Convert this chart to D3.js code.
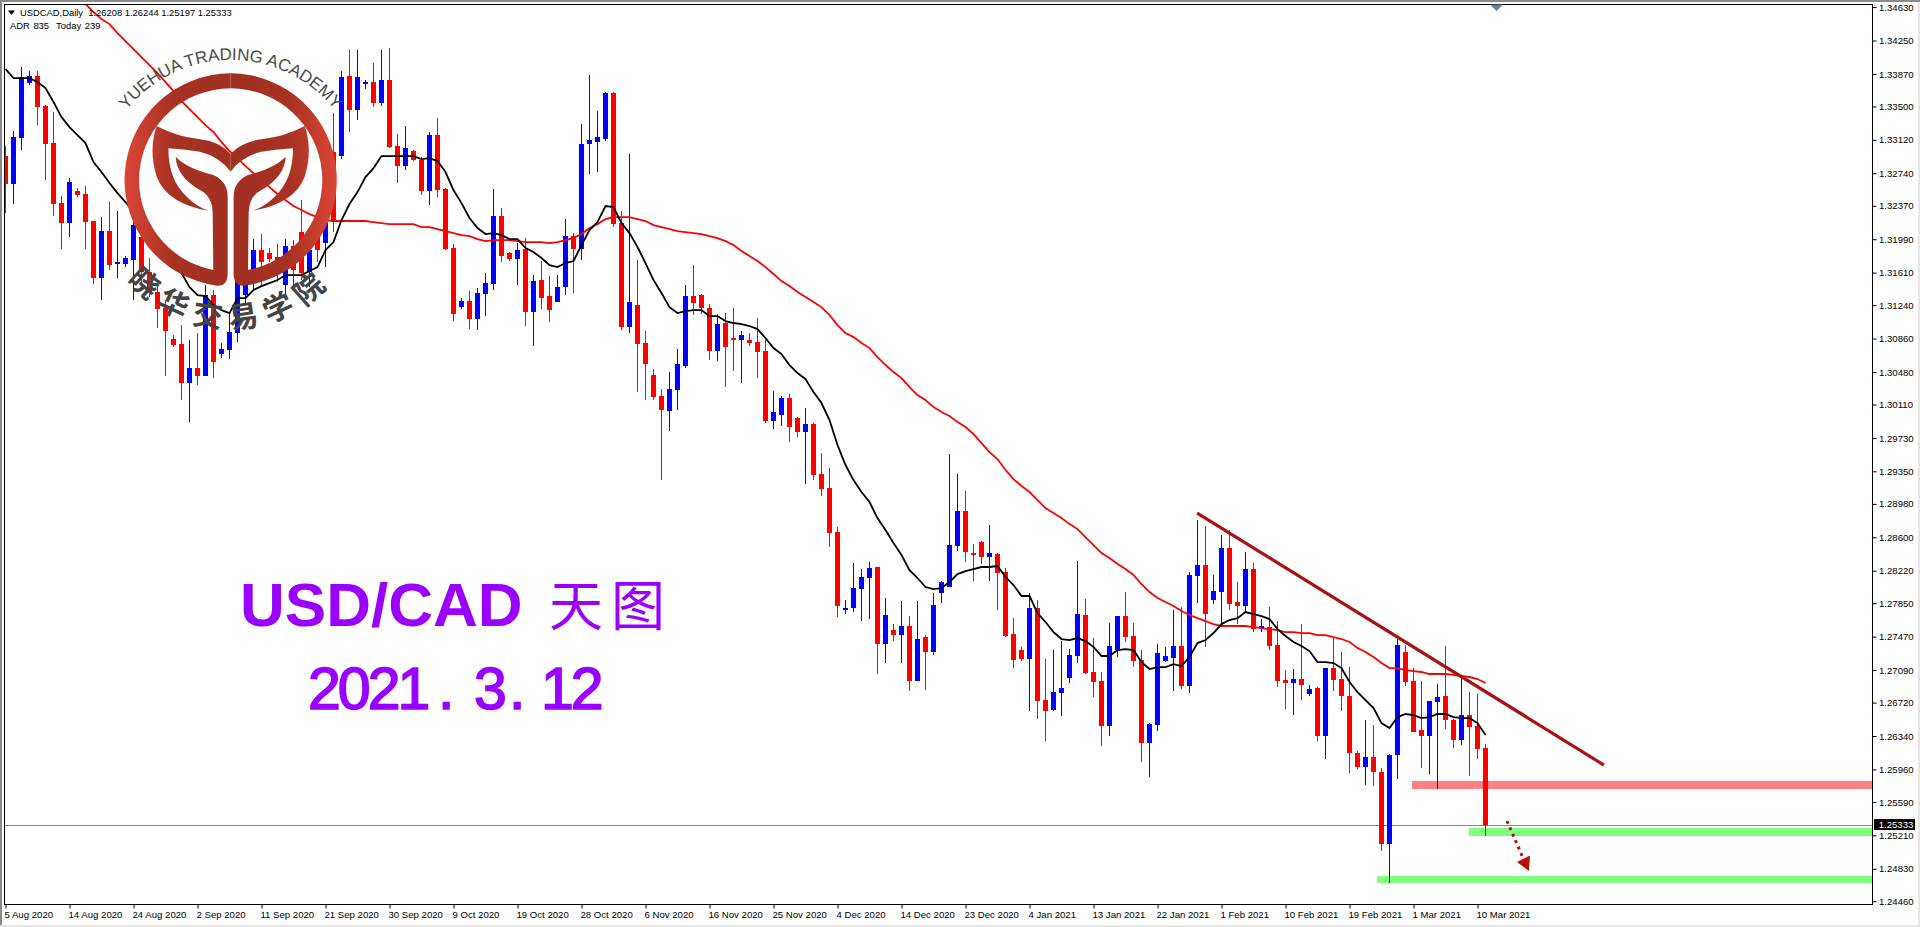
<!DOCTYPE html>
<html>
<head>
<meta charset="utf-8">
<script src="https://cdn.jsdelivr.net/npm/d3@7"></script>
<style>
html,body{margin:0;padding:0;background:#fff;overflow:hidden}
svg{display:block}
text{font-family:"Liberation Sans",Arial,sans-serif}
</style>
</head>
<body>
<svg id="chart" width="1920" height="927"></svg>
<script>
const tickLabels = ["5 Aug 2020","14 Aug 2020","24 Aug 2020","2 Sep 2020","11 Sep 2020","21 Sep 2020","30 Sep 2020","9 Oct 2020","19 Oct 2020","28 Oct 2020","6 Nov 2020","16 Nov 2020","25 Nov 2020","4 Dec 2020","14 Dec 2020","23 Dec 2020","4 Jan 2021","13 Jan 2021","22 Jan 2021","1 Feb 2021","10 Feb 2021","19 Feb 2021","1 Mar 2021","10 Mar 2021"];
const priceTicks = [1.34630,1.34250,1.33870,1.33500,1.33120,1.32740,1.32370,1.31990,1.31610,1.31240,1.30860,1.30480,1.30110,1.29730,1.29350,1.28980,1.28600,1.28220,1.27850,1.27470,1.27090,1.26720,1.26340,1.25960,1.25590,1.25210,1.24830,1.24460];

const opens = [1.32936,1.32617,1.33141,1.33766,1.33846,1.33505,1.33084,1.32401,1.32174,1.32538,
1.32504,1.32197,1.31548,1.32083,1.31707,1.31707,1.31753,1.32015,1.31617,1.31389,
1.31207,1.30855,1.30798,1.30354,1.30525,1.30434,1.31355,1.30684,1.30729,1.30923,
1.31355,1.31639,1.31867,1.31833,1.31787,1.31469,1.31912,1.32071,1.31617,1.32151,
1.31946,1.32981,1.32936,1.33846,1.33459,1.33755,1.33777,1.33539,1.33800,1.33050,
1.32822,1.32993,1.32890,1.32538,1.33175,1.32560,1.31890,1.31218,1.31287,1.31082,
1.31366,1.31480,1.32253,1.31833,1.31764,1.31878,1.31162,1.31526,1.31344,1.31275,
1.31446,1.32026,1.31878,1.33072,1.33095,1.33129,1.33652,1.32174,1.30991,1.31241,
1.30809,1.30445,1.30207,1.30036,1.30275,1.30547,1.31344,1.31355,1.31207,1.30718,
1.31037,1.30866,1.30843,1.30843,1.30820,1.30718,1.29922,1.29990,1.30184,1.29956,
1.29797,1.29888,1.29319,1.29160,1.28659,1.27772,1.27795,1.28011,1.28137,1.28262,
1.27386,1.27545,1.27488,1.27591,1.26965,1.27465,1.27295,1.27966,1.28034,1.28500,
1.28899,1.28421,1.28546,1.28375,1.28409,1.28205,1.27500,1.27318,1.27215,1.27795,
1.26749,1.26635,1.26829,1.26999,1.27250,1.27716,1.27068,1.26965,1.26453,1.27318,
1.27704,1.27477,1.27204,1.26260,1.26465,1.27193,1.27227,1.27363,1.26908,1.28159,
1.28284,1.27886,1.27977,1.28478,1.27864,1.27818,1.28239,1.27568,1.27579,1.27375,
1.26976,1.26942,1.26988,1.26817,1.26885,1.26340,1.27113,1.26988,1.26794,1.26146,
1.25987,1.26101,1.25930,1.25111,1.26123,1.27295,1.26965,1.26408,1.26340,1.26726,
1.26794,1.26521,1.26294,1.26578,1.26453,1.26208];

const highs = [1.33050,1.33220,1.33948,1.33903,1.33903,1.33516,1.33436,1.32481,1.32686,1.32572,
1.32595,1.32197,1.32242,1.32413,1.32310,1.31798,1.32185,1.32094,1.31776,1.31469,
1.31298,1.30900,1.31014,1.30843,1.30923,1.31469,1.31412,1.30809,1.31150,1.31582,
1.31867,1.31992,1.32049,1.31890,1.31935,1.31992,1.31980,1.32435,1.32094,1.32265,
1.32265,1.33425,1.33903,1.34141,1.34141,1.33800,1.33994,1.34141,1.34164,1.33186,
1.33277,1.33004,1.32924,1.33209,1.33368,1.32572,1.31935,1.31321,1.31401,1.31435,
1.31605,1.32560,1.32344,1.31844,1.31946,1.32003,1.31582,1.31742,1.31571,1.31582,
1.32219,1.32060,1.33300,1.33857,1.33448,1.33664,1.33664,1.32310,1.32958,1.31753,
1.30946,1.30514,1.30286,1.30479,1.30741,1.31469,1.31696,1.31366,1.31252,1.31139,
1.31150,1.31207,1.30946,1.30923,1.31093,1.30877,1.30263,1.30207,1.30229,1.29967,
1.30070,1.29899,1.29558,1.29387,1.28716,1.27886,1.28307,1.28239,1.28318,1.28262,
1.27909,1.27613,1.27875,1.27704,1.27875,1.27488,1.27966,1.28102,1.29546,1.29319,
1.29126,1.28523,1.28557,1.28739,1.28421,1.28250,1.27681,1.27352,1.27966,1.27886,
1.27215,1.27318,1.27420,1.27329,1.28330,1.27898,1.27454,1.27068,1.27625,1.27704,
1.27977,1.27625,1.27318,1.26487,1.27386,1.27352,1.27772,1.27806,1.28205,1.28796,
1.28727,1.28171,1.28625,1.28682,1.28091,1.28432,1.28307,1.27670,1.27806,1.27647,
1.27090,1.27102,1.27613,1.26919,1.26897,1.27113,1.27465,1.27295,1.27124,1.26169,
1.26521,1.26464,1.25976,1.26135,1.27454,1.27375,1.27113,1.26965,1.26738,1.26931,
1.27363,1.26533,1.27011,1.26840,1.26817,1.26244];

const lows = [1.32288,1.32390,1.33004,1.33743,1.33288,1.32663,1.32253,1.31878,1.32015,1.32470,
1.31878,1.31480,1.31298,1.31639,1.31548,1.31673,1.31298,1.31469,1.31332,1.30980,
1.30434,1.30764,1.30161,1.29910,1.30332,1.30434,1.30411,1.30638,1.30627,1.30820,
1.31241,1.31412,1.31469,1.31730,1.31503,1.31355,1.31469,1.31526,1.31446,1.31730,
1.31673,1.32071,1.32902,1.33209,1.33345,1.33698,1.33493,1.33505,1.33027,1.32629,
1.32777,1.32879,1.32492,1.32378,1.32470,1.31867,1.31059,1.31196,1.30968,1.30957,
1.31116,1.31412,1.31730,1.31742,1.31469,1.31003,1.30775,1.31196,1.31048,1.31275,
1.31355,1.31378,1.31753,1.32731,1.32754,1.33106,1.32128,1.30957,1.30923,1.30252,
1.30161,1.30161,1.29251,1.29808,1.30047,1.30525,1.31127,1.31139,1.30616,1.30604,
1.30309,1.30491,1.30354,1.30775,1.30411,1.29899,1.29831,1.29865,1.29683,1.29740,
1.29205,1.29251,1.29069,1.28489,1.27693,1.27727,1.27750,1.27648,1.27670,1.27045,
1.27170,1.27420,1.27170,1.26851,1.26965,1.26863,1.27261,1.27852,1.28034,1.28444,
1.28318,1.28102,1.28296,1.28102,1.27772,1.27465,1.27113,1.27193,1.26624,1.26533,
1.26283,1.26624,1.26567,1.26942,1.27170,1.27045,1.26784,1.26226,1.26340,1.27238,
1.27409,1.27124,1.26044,1.25873,1.26396,1.27181,1.26851,1.26874,1.26829,1.27852,
1.27352,1.27841,1.27613,1.27772,1.27613,1.27738,1.27522,1.27522,1.27318,1.26897,
1.26646,1.26578,1.26749,1.26794,1.26283,1.26078,1.26851,1.26624,1.25919,1.25964,
1.25782,1.25771,1.25031,1.24668,1.25850,1.26908,1.26385,1.25976,1.25908,1.25737,
1.26419,1.26203,1.26237,1.25884,1.26078,1.25197];

const closes = [1.32617,1.33152,1.33834,1.33846,1.33493,1.33072,1.32390,1.32174,1.32640,1.32492,
1.32185,1.31548,1.32083,1.31696,1.31730,1.31776,1.32151,1.31617,1.31389,1.31196,
1.30946,1.30786,1.30354,1.30525,1.30434,1.31355,1.30593,1.30741,1.30934,1.31526,
1.31730,1.31867,1.31730,1.31764,1.31617,1.31912,1.31639,1.31605,1.31867,1.31867,
1.32174,1.32185,1.33834,1.33459,1.33834,1.33777,1.33539,1.33800,1.33038,1.32822,
1.33027,1.32890,1.32538,1.33175,1.32549,1.31878,1.31139,1.31287,1.31082,1.31378,
1.31491,1.32253,1.31798,1.31764,1.31867,1.31162,1.31514,1.31321,1.31184,1.31446,
1.32026,1.31878,1.33072,1.33118,1.33152,1.33652,1.32162,1.30991,1.31275,1.30798,
1.30570,1.30195,1.30047,1.30286,1.30570,1.31344,1.31264,1.31207,1.30718,1.31025,
1.30764,1.30843,1.30900,1.30809,1.30707,1.29922,1.30024,1.30184,1.29854,1.29797,
1.29888,1.29308,1.29149,1.28648,1.27818,1.27795,1.28023,1.28148,1.28250,1.27386,
1.27716,1.27488,1.27591,1.26965,1.27443,1.27295,1.27829,1.28091,1.28512,1.28899,
1.28432,1.28398,1.28375,1.28421,1.28193,1.27477,1.27204,1.27215,1.27795,1.26738,
1.26624,1.26840,1.26886,1.27261,1.27727,1.27056,1.26954,1.26453,1.27363,1.27704,
1.27465,1.27193,1.26260,1.26476,1.27284,1.27250,1.27363,1.26908,1.28171,1.28284,
1.27727,1.27989,1.28478,1.27841,1.27818,1.28239,1.27556,1.27591,1.27363,1.26965,
1.26942,1.26988,1.26920,1.26874,1.26340,1.27113,1.26976,1.26794,1.26146,1.25987,
1.26101,1.25930,1.25111,1.26123,1.27375,1.26954,1.26385,1.26340,1.26738,1.26783,
1.26521,1.26294,1.26578,1.26442,1.26192,1.25333];

const blackMA = [1.33926,1.33823,1.33823,1.33823,1.33777,1.33709,1.33550,1.33379,1.33266,1.33175,
1.33084,1.32868,1.32754,1.32629,1.32515,1.32413,1.32299,1.32208,1.32128,1.32003,
1.31890,1.31719,1.31605,1.31446,1.31355,1.31344,1.31241,1.31184,1.31150,1.31321,
1.31321,1.31412,1.31457,1.31491,1.31526,1.31582,1.31582,1.31582,1.31628,1.31673,
1.31867,1.31958,1.32208,1.32390,1.32526,1.32697,1.32799,1.32936,1.32936,1.32936,
1.32936,1.32936,1.32902,1.32913,1.32879,1.32754,1.32549,1.32401,1.32231,1.32117,
1.32049,1.32060,1.32037,1.31992,1.31992,1.31890,1.31844,1.31776,1.31696,1.31673,
1.31719,1.31742,1.31923,1.32094,1.32185,1.32367,1.32356,1.32174,1.32060,1.31901,
1.31719,1.31526,1.31378,1.31218,1.31150,1.31173,1.31184,1.31184,1.31116,1.31116,
1.31059,1.31037,1.31025,1.31003,1.30968,1.30866,1.30752,1.30684,1.30559,1.30468,
1.30400,1.30252,1.30127,1.29933,1.29649,1.29422,1.29251,1.29115,1.29001,1.28819,
1.28682,1.28534,1.28398,1.28227,1.28137,1.28034,1.28011,1.28023,1.28091,1.28182,
1.28216,1.28239,1.28262,1.28262,1.28273,1.28148,1.28057,1.27932,1.27932,1.27738,
1.27636,1.27522,1.27443,1.27431,1.27454,1.27420,1.27352,1.27250,1.27250,1.27318,
1.27329,1.27318,1.27181,1.27102,1.27124,1.27124,1.27158,1.27136,1.27238,1.27397,
1.27431,1.27511,1.27613,1.27659,1.27681,1.27750,1.27727,1.27704,1.27670,1.27556,
1.27477,1.27409,1.27363,1.27306,1.27181,1.27181,1.27170,1.27113,1.26954,1.26840,
1.26749,1.26658,1.26487,1.26430,1.26555,1.26590,1.26578,1.26544,1.26555,1.26590,
1.26590,1.26555,1.26544,1.26544,1.26487,1.26351];

const redMA = [null,null,null,null,null,null,null,null,null,null,
1.34665,1.34574,1.34494,1.34437,1.34335,1.34244,1.34153,1.34062,1.33971,1.33880,
1.33777,1.33675,1.33561,1.33470,1.33379,1.33288,1.33209,1.33095,1.32993,1.32913,
1.32822,1.32742,1.32663,1.32583,1.32504,1.32435,1.32367,1.32322,1.32276,1.32242,
1.32208,1.32197,1.32197,1.32197,1.32197,1.32197,1.32185,1.32174,1.32162,1.32162,
1.32162,1.32162,1.32128,1.32128,1.32106,1.32083,1.32060,1.32037,1.32026,1.31992,
1.31969,1.31980,1.31980,1.31980,1.31969,1.31958,1.31958,1.31958,1.31946,1.31958,
1.31980,1.32003,1.32049,1.32117,1.32162,1.32219,1.32242,1.32242,1.32242,1.32219,
1.32197,1.32151,1.32128,1.32106,1.32083,1.32071,1.32060,1.32049,1.32026,1.32003,
1.31969,1.31923,1.31855,1.31798,1.31742,1.31673,1.31594,1.31514,1.31457,1.31389,
1.31332,1.31275,1.31218,1.31127,1.31014,1.30923,1.30877,1.30809,1.30752,1.30650,
1.30559,1.30479,1.30411,1.30309,1.30218,1.30161,1.30081,1.30024,1.29979,1.29910,
1.29854,1.29774,1.29672,1.29569,1.29490,1.29365,1.29262,1.29183,1.29115,1.29023,
1.28932,1.28875,1.28819,1.28750,1.28693,1.28603,1.28512,1.28421,1.28364,1.28296,
1.28239,1.28171,1.28068,1.27977,1.27909,1.27864,1.27818,1.27761,1.27716,1.27681,
1.27647,1.27613,1.27591,1.27591,1.27591,1.27591,1.27579,1.27568,1.27556,1.27545,
1.27522,1.27522,1.27511,1.27511,1.27488,1.27488,1.27465,1.27443,1.27409,1.27341,
1.27295,1.27238,1.27170,1.27113,1.27113,1.27090,1.27079,1.27068,1.27045,1.27045,
1.27045,1.27034,1.27022,1.27011,1.26988,1.26942];

const zoneStarts = [175.8,182.96,171.46];
const zoneTops = [1.25828,1.25293,1.24748];
const zoneBottoms = [1.25737,1.25202,1.24668];
const zoneColors = ["#ff8080","#80ff80","#80ff80"];
const trendBars = [148.96,199.8];
const trendPrices = [1.28876,1.26010];
const lastPrice = 1.25333;
const tickEvery = 8;

const width = 1920, height = 927;
const plot = {left:4.5, top:4.5, right:1872.5, bottom:904.5};
const svg = d3.select("#chart");

const x = d3.scaleLinear().domain([0,185]).range([5.5,1485.5]);
const y = d3.scaleLinear().domain([1.24460,1.34630]).range([901.3,7.1]);

/* window chrome */
svg.append("rect").attr("x",0).attr("y",0).attr("width",width).attr("height",2).attr("fill","#8a8a8a");
svg.append("rect").attr("x",0).attr("y",0).attr("width",2).attr("height",height).attr("fill","#8a8a8a");
svg.append("rect").attr("x",0).attr("y",925).attr("width",width).attr("height",2).attr("fill","#e6e6e6");
svg.append("rect").attr("x",1918).attr("y",2).attr("width",2).attr("height",height).attr("fill","#e6e6e6");

const defs = svg.append("defs");
defs.append("clipPath").attr("id","plotClip").append("rect")
  .attr("x",plot.left+.5).attr("y",plot.top+.5)
  .attr("width",plot.right-plot.left-1).attr("height",plot.bottom-plot.top-1);

const main = svg.append("g").attr("clip-path","url(#plotClip)");

/* zones */
main.append("g").attr("shape-rendering","crispEdges").selectAll("rect").data(zoneStarts).join("rect")
  .attr("x",d=>x(d)).attr("width",d=>plot.right-x(d))
  .attr("y",(d,i)=>y(zoneTops[i])).attr("height",(d,i)=>y(zoneBottoms[i])-y(zoneTops[i]))
  .attr("fill",(d,i)=>zoneColors[i]);

/* current price line */
main.append("line").attr("x1",plot.left).attr("x2",plot.right)
  .attr("y1",Math.round(y(lastPrice))+.5).attr("y2",Math.round(y(lastPrice))+.5)
  .attr("stroke","#778899").attr("stroke-width",1);

/* candles */
const color = i => closes[i] < opens[i] ? "#ff0000" : "#0000ff";
const candles = main.append("g").attr("shape-rendering","crispEdges");
candles.selectAll("line").data(opens).join("line")
  .attr("x1",(d,i)=>x(i)).attr("x2",(d,i)=>x(i))
  .attr("y1",(d,i)=>y(highs[i])).attr("y2",(d,i)=>y(lows[i]))
  .attr("stroke",(d,i)=>color(i)).attr("stroke-width",1);
candles.selectAll("rect").data(opens).join("rect")
  .attr("x",(d,i)=>x(i)-2.5).attr("width",5)
  .attr("y",(d,i)=>y(Math.max(opens[i],closes[i])))
  .attr("height",(d,i)=>Math.max(1,Math.abs(y(opens[i])-y(closes[i]))))
  .attr("fill",(d,i)=>color(i));

/* moving averages */
const line = d3.line().defined(d=>d!==null).x((d,i)=>x(i)).y(d=>y(d));
main.append("path").attr("d",line(redMA)).attr("fill","none").attr("stroke","#ff0000").attr("stroke-width",1.8);
main.append("path").attr("d",line(blackMA)).attr("fill","none").attr("stroke","#000000").attr("stroke-width",1.8);

/* trend line */
main.append("line")
  .attr("x1",x(trendBars[0])).attr("y1",y(trendPrices[0]))
  .attr("x2",x(trendBars[1])).attr("y2",y(trendPrices[1]))
  .attr("stroke","#a81212").attr("stroke-width",3.2);

/* dotted arrow */
main.append("line").attr("x1",1507).attr("y1",821).attr("x2",1523).attr("y2",858)
  .attr("stroke","#b01515").attr("stroke-width",3).attr("stroke-dasharray","3,4");
main.append("path").attr("d","M1517,862 L1530,855.5 L1529,871 Z").attr("fill","#b81010");

/* frame */
svg.append("rect").attr("x",plot.left).attr("y",plot.top)
  .attr("width",plot.right-plot.left).attr("height",plot.bottom-plot.top)
  .attr("fill","none").attr("stroke","#000").attr("stroke-width",1).attr("shape-rendering","crispEdges");

/* axes */
const yAxis = d3.axisRight(y).tickValues(priceTicks).tickFormat(d3.format(".5f")).tickSize(4).tickPadding(2.5);
const gy = svg.append("g").attr("transform",`translate(${plot.right},0)`).call(yAxis);
gy.select(".domain").remove();
gy.selectAll("text").attr("font-size",9.6).attr("fill","#000").style("font-family",'"Liberation Sans",Arial,sans-serif');

const xAxis = d3.axisBottom(x).tickValues(tickLabels.map((d,i)=>i*tickEvery))
  .tickFormat(d=>tickLabels[d/tickEvery]).tickSize(4).tickPadding(1);
const gx = svg.append("g").attr("transform",`translate(0,${plot.bottom})`).call(xAxis);
gx.select(".domain").remove();
gx.selectAll("text").attr("text-anchor","start").attr("dx",-1.5).attr("dy","0.85em")
  .attr("font-size",9.6).attr("fill","#000").style("font-family",'"Liberation Sans",Arial,sans-serif');

/* current price tag */
const tagY = y(lastPrice);
svg.append("rect").attr("x",1874).attr("y",tagY-5.5).attr("width",41).attr("height",11).attr("fill","#000");
svg.append("text").attr("x",1878.7).attr("y",tagY+3.4).attr("font-size",9.6).attr("fill","#fff").text(d3.format(".5f")(lastPrice));

/* header texts */
svg.append("path").attr("d","M8,10.5 L15,10.5 L11.5,15 Z").attr("fill","#000");
svg.append("text").attr("x",20).attr("y",15.8).attr("font-size",9.4).attr("fill","#000")
  .attr("xml:space","preserve").text("USDCAD,Daily  1.26208 1.26244 1.25197 1.25333");
svg.append("text").attr("x",10).attr("y",29).attr("font-size",9.4).attr("fill","#000").attr("word-spacing",1)
  .attr("xml:space","preserve").text("ADR 835  Today 239");
svg.append("path").attr("d","M1490,4.5 L1503,4.5 L1496.5,11 Z").attr("fill","#6d7d8d");

/* logo */
const grad = defs.append("linearGradient").attr("id","logoGrad").attr("gradientUnits","userSpaceOnUse")
  .attr("x1",372).attr("x2",692).attr("y1",0).attr("y2",0);
grad.append("stop").attr("offset",0).attr("stop-color","#dc4636");
grad.append("stop").attr("offset",.45).attr("stop-color","#a83222");
grad.append("stop").attr("offset",1).attr("stop-color","#a03022");
const logo = svg.append("g").attr("transform","scale(0.33333)");
const halfRing = "M692,220 A320,320 0 0 0 650,857 Q683,860 683,820 L683,590 Q683,545 640,525 Q560,505 527,470 Q530,530 600,570 Q638,590 638,640 L640,810 A275,275 0 0 1 692,265 Z";
const halfBand = "M470,378 Q530,410 600,418 Q660,425 692,462 L692,515 Q660,470 600,455 Q550,447 505,445 Q505,540 560,590 Q590,620 625,632 Q500,610 470,530 Q445,450 470,378 Z";
[ "", "translate(1384,0) scale(-1,1)" ].forEach(t=>{
  const g = logo.append("g").attr("transform",t);
  g.append("path").attr("d",halfRing).attr("fill","url(#logoGrad)");
  g.append("path").attr("d",halfBand).attr("fill","url(#logoGrad)");
});
defs.append("path").attr("id","arcTop").attr("d","M292,580 A400,400 0 0 1 1092,580");
logo.append("text").attr("font-size",51).attr("fill","#4a4a4a")
  .append("textPath").attr("href","#arcTop").attr("startOffset","50%").attr("text-anchor","middle")
  .text("YUEHUA TRADING ACADEMY");
defs.append("path").attr("id","arcBottom").attr("d","M95,193 A135,135 0 0 0 365,193");
svg.append("text").attr("font-size",30).attr("font-weight",700).attr("fill","#444444")
  .style("font-family",'"Noto Sans CJK SC",sans-serif').attr("letter-spacing",9)
  .append("textPath").attr("href","#arcBottom").attr("startOffset","50%").attr("text-anchor","middle")
  .text("晓华交易学院");

/* title */
svg.append("text").attr("x",240).attr("y",626).attr("font-size",62).attr("font-weight",700).attr("fill","#9900ff").text("USD/CAD");
svg.append("text").attr("x",549).attr("y",626).attr("font-size",54).attr("letter-spacing",8).attr("fill","#9900ff")
  .style("font-family",'"Noto Sans CJK SC",sans-serif').text("天图");
const dateText = svg.append("text").attr("y",709).attr("font-size",59).attr("fill","#9900ff")
  .attr("stroke","#9900ff").attr("stroke-width",1.6);
dateText.append("tspan").attr("x",308).attr("letter-spacing",-3).text("2021");
dateText.append("tspan").attr("x",438).text(". ");
dateText.append("tspan").attr("x",474).text("3");
dateText.append("tspan").attr("x",509).text(". ");
dateText.append("tspan").attr("x",541).attr("letter-spacing",-3).text("12");
</script>
</body>
</html>
